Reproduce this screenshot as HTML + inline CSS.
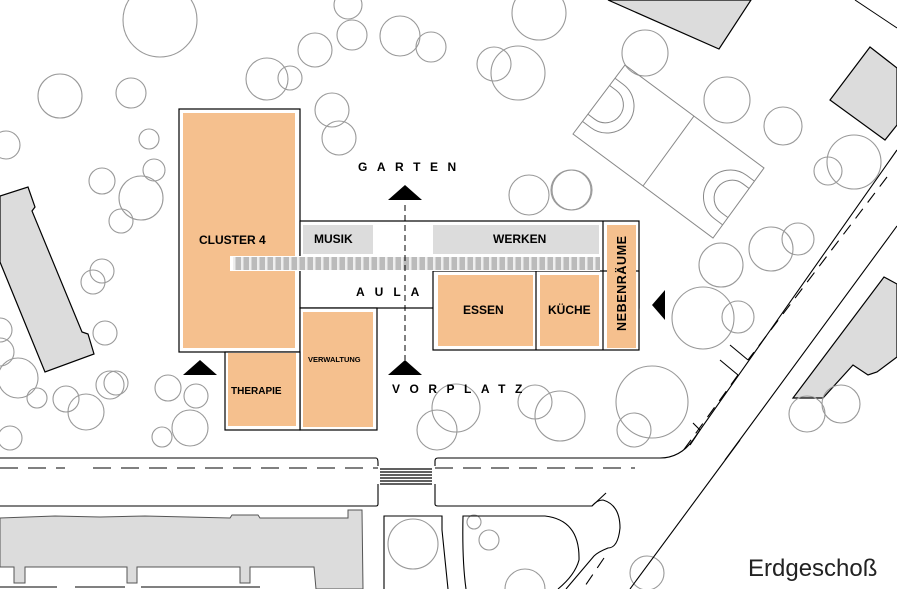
<!DOCTYPE html>
<html><head><meta charset="utf-8"><style>
html,body{margin:0;padding:0;background:#fff;}
svg{display:block;}
.t{fill:none;stroke:#999;stroke-width:1.1;}
.b{fill:#000;font-family:"Liberation Sans",Arial,sans-serif;font-weight:bold;}
</style></head><body>
<svg width="897" height="589" viewBox="0 0 897 589" xmlns="http://www.w3.org/2000/svg">
<rect width="897" height="589" fill="#fff"/>
<!-- grey buildings -->
<g fill="#dcdcdc" stroke="#000" stroke-width="1.2">
<polygon points="0,196 28,187 35,207 32,211 82,332 88,334 94,354 45,372 0,262"/>
<polygon points="608,0 751,0 719,49"/>
<polygon points="870,47 897,68 897,125 885,140 830,100"/>
<polygon points="884,277 897,284 897,357 877,372 868,375 853,365 823,398 793,398"/>
</g>
<g fill="#dcdcdc" stroke="#555" stroke-width="1">
<path d="M0,518 L55,516 L100,517 L145,516 L230,518 L232,515 L258,515 L260,518 L348,518 L348,510 L362,510 L363,589 L316,589 L314,567 L250,567 L250,583 L240,583 L240,567 L137,567 L137,583 L127,583 L127,567 L25,567 L25,583 L14,583 L14,567 L0,567 Z"/>
</g>
<g fill="none" stroke="#000" stroke-width="1">
<path d="M0,587 L57,587 M75,587 L125,587 M141,587 L260,587"/>
<line x1="855" y1="0" x2="897" y2="28"/>
</g>
<!-- trees -->
<g class="t">
<circle cx="160" cy="20" r="37"/><circle cx="60" cy="96" r="22"/><circle cx="131" cy="93" r="15"/>
<circle cx="267" cy="79" r="21"/><circle cx="6" cy="145" r="14"/><circle cx="149" cy="139" r="10"/>
<circle cx="154" cy="170" r="11"/><circle cx="102" cy="181" r="13"/><circle cx="141" cy="198" r="22"/>
<circle cx="121" cy="221" r="12"/><circle cx="102" cy="271" r="12"/><circle cx="93" cy="282" r="12"/>
<circle cx="105" cy="333" r="12"/><circle cx="18" cy="378" r="20"/><circle cx="0" cy="352" r="14"/>
<circle cx="37" cy="398" r="10"/><circle cx="66" cy="399" r="13"/><circle cx="86" cy="412" r="18"/>
<circle cx="110" cy="385" r="14"/><circle cx="116" cy="383" r="12"/><circle cx="168" cy="388" r="13"/>
<circle cx="196" cy="396" r="12"/><circle cx="190" cy="428" r="18"/><circle cx="162" cy="437" r="10"/>
<circle cx="10" cy="438" r="12"/><circle cx="0" cy="330" r="12"/>
<circle cx="315" cy="50" r="17"/><circle cx="352" cy="35" r="15"/><circle cx="400" cy="36" r="20"/>
<circle cx="431" cy="47" r="15"/><circle cx="539" cy="13" r="27"/><circle cx="494" cy="64" r="17"/>
<circle cx="518" cy="73" r="27"/><circle cx="332" cy="110" r="17"/><circle cx="339" cy="138" r="17"/>
<circle cx="348" cy="5" r="14"/><circle cx="290" cy="78" r="12"/>
<circle cx="529" cy="195" r="20"/><circle cx="571" cy="190" r="20"/>
<circle cx="645" cy="53" r="23"/><circle cx="727" cy="100" r="23"/><circle cx="783" cy="126" r="19"/>
<circle cx="854" cy="162" r="27"/><circle cx="828" cy="171" r="14"/><circle cx="572" cy="190" r="20"/>
<circle cx="721" cy="265" r="22"/><circle cx="771" cy="249" r="22"/><circle cx="798" cy="239" r="16"/>
<circle cx="703" cy="318" r="31"/><circle cx="738" cy="317" r="16"/>
<circle cx="652" cy="402" r="36"/><circle cx="634" cy="430" r="17"/>
<circle cx="807" cy="414" r="18"/><circle cx="841" cy="404" r="19"/>
<circle cx="456" cy="408" r="24"/><circle cx="437" cy="430" r="20"/><circle cx="535" cy="402" r="17"/>
<circle cx="560" cy="416" r="25"/><circle cx="413" cy="544" r="25"/><circle cx="474" cy="522" r="7"/>
<circle cx="489" cy="540" r="10"/><circle cx="525" cy="589" r="20"/><circle cx="647" cy="573" r="17"/>
</g>
<!-- sports field -->
<g fill="none" stroke="#888" stroke-width="1">
<polygon points="625,65 764,168 713,238 573,134"/>
<line x1="694" y1="116" x2="643" y2="186"/>
<path d="M615.2,78.4 L623.2,84.4 A27,27 0 0 1 590.8,127.6 L582.8,121.6"/>
<path d="M609.8,85.6 L616.2,90.4 A18,18 0 0 1 594.6,119.2 L588.2,114.4"/>
<path d="M754.7,181.4 L746.7,175.4 A27,27 0 0 0 714.3,218.6 L722.3,224.6"/>
<path d="M749.3,188.6 L742.9,183.8 A18,18 0 0 0 721.3,212.6 L727.7,217.4"/>
</g>
<!-- roads -->
<g fill="none" stroke="#000" stroke-width="1.1">
<path d="M0,458 L376,458 Q378,458 378,463 L378,466"/>
<path d="M378,484 L378,504 Q378,506 376,506 L0,506"/>
<path d="M435,466 L435,461 Q435,458 438,458 L660,458 Q680,458 693,440 L897,150"/>
<path d="M435,484 L435,504 Q435,506 438,506 L592,506 Q597,500 603,500 Q620,505 620,528 Q618,548 608,548 Q598,552 594,556 L566,589"/>
<line x1="592" y1="506" x2="606" y2="493"/>
<path d="M384,589 L384,516 L442,516 L442,530 Q445,560 448,589"/>
<path d="M466,589 Q462,560 463,516 L545,516 Q580,520 579,560 Q575,575 558,589"/>
<line x1="740" y1="440" x2="630" y2="589"/>
<path d="M897,226 L725,460 M693,423 L700,430 Q695,438 690,445"/>
<g stroke-dasharray="18,10"><line x1="0" y1="468" x2="65" y2="468"/><line x1="93" y1="468" x2="378" y2="468"/><line x1="435" y1="468" x2="635" y2="468"/></g>
<g stroke-dasharray="12,8"><line x1="887" y1="177" x2="748" y2="360"/><line x1="604" y1="558" x2="583" y2="589"/><line x1="738" y1="375" x2="680" y2="455"/></g>
<line x1="730" y1="345" x2="748" y2="360"/><line x1="720" y1="360" x2="738" y2="375"/>
</g>
<g stroke="#000" stroke-width="1.2">
<line x1="380" y1="469" x2="432" y2="469"/><line x1="380" y1="472" x2="432" y2="472"/>
<line x1="380" y1="475" x2="432" y2="475"/><line x1="380" y1="478" x2="432" y2="478"/>
<line x1="380" y1="481" x2="432" y2="481"/><line x1="380" y1="484" x2="432" y2="484"/>
</g>
<!-- building outlines -->
<g fill="#fff" stroke="#000" stroke-width="1.2">
<rect x="179" y="109" width="121" height="243"/>
<rect x="300" y="221" width="339" height="87"/>
<rect x="433" y="271" width="206" height="79"/>
<rect x="300" y="308" width="77" height="122"/>
<rect x="225" y="352" width="75" height="78"/>
</g>
<line x1="603" y1="221" x2="603" y2="350" stroke="#000" stroke-width="1.2"/>
<line x1="536" y1="271" x2="536" y2="350" stroke="#000" stroke-width="1.2"/>
<g fill="#f5c08e">
<rect x="183" y="113" width="112" height="235"/>
<rect x="228" y="353" width="68" height="73"/>
<rect x="303" y="312" width="70" height="115"/>
<rect x="438" y="275" width="95" height="71"/>
<rect x="540" y="275" width="59" height="71"/>
<rect x="607" y="225" width="29" height="123"/>
</g>
<g fill="#dcdcdc">
<rect x="303" y="225" width="70" height="29"/>
<rect x="433" y="225" width="166" height="29"/>
</g>
<rect x="230" y="256" width="370" height="15" fill="#fff"/>
<rect x="233" y="257" width="367" height="13" fill="#bbb"/>
<line x1="233" y1="263.5" x2="600" y2="263.5" stroke="#eee" stroke-width="13" stroke-dasharray="2.5,5.5"/>
<!-- axis -->
<line x1="405" y1="205" x2="405" y2="360" stroke="#000" stroke-width="1" stroke-dasharray="6,4"/>
<g fill="#000">
<polygon points="405,185 388,200 422,200"/>
<polygon points="405,360 388,375 422,375"/>
<polygon points="200,360 183,375 217,375"/>
<polygon points="652,305 665,290 665,320"/>
</g>
<!-- labels -->
<text class="b" x="358" y="171" font-size="12" letter-spacing="9.5">GARTEN</text>
<text class="b" x="392" y="393" font-size="12" letter-spacing="9.5">VORPLATZ</text>
<text class="b" x="356" y="296" font-size="12" letter-spacing="10">AULA</text>
<text class="b" x="199" y="244" font-size="12">CLUSTER 4</text>
<text class="b" x="314" y="243" font-size="12">MUSIK</text>
<text class="b" x="493" y="243" font-size="12">WERKEN</text>
<text class="b" x="463" y="314" font-size="12">ESSEN</text>
<text class="b" x="548" y="314" font-size="12">KÜCHE</text>
<text class="b" x="231" y="394" font-size="10">THERAPIE</text>
<text class="b" x="308" y="362" font-size="7.5">VERWALTUNG</text>
<text class="b" font-size="12.5" letter-spacing="0.6" transform="translate(626,331) rotate(-90)">NEBENRÄUME</text>
<text x="748" y="576" font-family="'Liberation Sans',Arial,sans-serif" font-size="24" fill="#222">Erdgeschoß</text>
</svg>
</body></html>
